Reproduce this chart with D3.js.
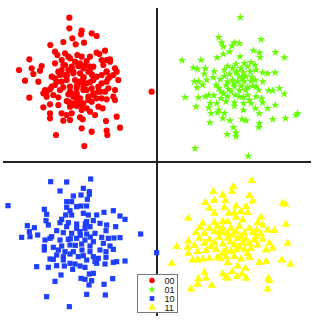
<!DOCTYPE html>
<html>
<head>
<meta charset="utf-8">
<script src="https://cdn.jsdelivr.net/npm/d3@7"></script>
<style>
  html, body { margin: 0; padding: 0; background: #fff; }
  svg { display: block; }
  .legend text { font-family: "Liberation Sans", Arial, sans-serif; font-size: 9px; fill: #111; }
</style>
</head>
<body>
<div id="chart"></div>
<script>
"use strict";

// cluster "00" (red circles)
var pts00 = [
  [-2.63,4.33],[-2.63,4.01],[-2.26,3.94],[-1.96,3.86],[-1.81,3.78],[-2.28,3.83],[-2.54,3.71],[-2.81,3.60],
  [-2.44,3.53],[-2.19,3.58],[-3.20,3.51],[-3.06,3.31],[-2.76,3.26],[-2.99,3.21],[-2.66,3.16],[-2.39,3.21],
  [-2.26,3.16],[-1.81,3.28],[-1.73,3.24],[-1.56,3.34],[-3.83,3.08],[-2.86,3.06],[-2.61,3.11],[-2.11,3.03],
  [-1.66,3.06],[-1.51,3.06],[-1.41,3.01],[-3.46,2.88],[-3.76,2.81],[-4.14,2.76],[-3.51,2.74],[-3.06,2.96],
  [-2.81,2.91],[-2.56,2.86],[-2.36,2.88],[-2.21,2.81],[-2.01,2.86],[-1.91,2.86],[-1.61,2.91],[-1.26,2.81],
  [-1.21,2.71],[-3.71,2.64],[-3.96,2.44],[-3.56,2.41],[-3.16,2.56],[-2.96,2.71],[-2.76,2.61],[-2.51,2.71],
  [-2.31,2.66],[-2.06,2.71],[-1.81,2.56],[-1.51,2.71],[-1.41,2.56],[-1.16,2.46],[-1.31,2.61],[-2.86,2.41],
  [-2.71,2.46],[-2.46,2.46],[-2.26,2.41],[-2.11,2.36],[-1.91,2.46],[-1.66,2.36],[-1.51,2.41],[-3.36,2.16],
  [-3.41,2.06],[-3.21,2.18],[-3.06,2.31],[-2.81,2.24],[-2.61,2.26],[-2.41,2.21],[-2.21,2.16],[-1.96,2.21],
  [-1.76,2.26],[-1.46,2.21],[-1.26,2.16],[-0.16,2.11],[-3.83,1.93],[-3.31,1.96],[-3.11,2.01],[-2.96,1.94],
  [-2.66,2.03],[-2.51,1.96],[-2.31,1.91],[-2.06,1.96],[-1.81,1.91],[-1.51,1.88],[-1.26,1.86],[-3.41,1.64],
  [-3.21,1.73],[-2.96,1.71],[-2.71,1.83],[-2.56,1.76],[-2.41,1.68],[-2.21,1.76],[-1.96,1.81],[-1.76,1.66],
  [-1.63,1.61],[-3.21,1.46],[-3.21,1.31],[-2.86,1.46],[-2.71,1.41],[-2.56,1.46],[-2.26,1.56],[-2.01,1.51],
  [-1.86,1.41],[-2.81,1.24],[-2.61,1.26],[-2.31,1.34],[-2.23,1.28],[-1.21,1.36],[-1.53,1.23],[-2.26,1.01],
  [-1.96,0.91],[-1.51,0.94],[-1.49,0.81],[-1.11,1.03],[-3.03,0.81],[-2.18,0.48],[-2.31,2.96],[-2.46,3.01],
  [-2.66,2.76],[-2.86,2.76],[-2.41,2.06],[-2.41,1.86],[-2.61,1.66],[-2.11,1.61],[-1.91,2.06],[-1.71,2.11],
  [-2.91,2.16],[-3.06,2.51],[-1.31,1.96],[-1.56,2.11],[-1.41,3.08],[-2.01,3.16],[-2.40,2.30],[-2.20,2.55],
  [-2.55,2.05],[-2.00,2.40],[-2.70,2.60],[-2.30,1.78],[-1.95,2.62],[-2.15,2.90],
  [-2.76,2.91],[-2.56,2.81],[-2.51,2.66],[-2.91,2.61],[-2.31,2.41],[-2.21,2.26],[-2.11,2.16],[-2.41,2.01],
  [-2.61,2.11],[-1.91,2.01],[-2.66,1.81],[-2.51,1.71],[-2.26,1.71],[-2.06,1.86],[-3.31,2.11],[-3.16,2.26],
  [-3.01,2.41],[-1.66,2.61],[-1.46,2.51],[-1.51,2.71],[-1.76,2.11],[-1.66,1.91],[-2.21,2.51],[-2.01,2.71],
  [-1.91,2.56]
];

// cluster "01" (green stars)
var pts01 = [
  [2.50,4.34],[1.85,3.74],[3.12,3.68],[1.94,3.58],[2.32,3.58],[2.47,3.56],[2.25,3.48],[1.99,3.46],
  [2.89,3.34],[3.07,3.28],[3.55,3.29],[2.17,3.31],[1.99,3.24],[2.49,3.16],[3.09,3.14],[3.82,3.13],
  [1.80,3.13],[0.75,3.05],[1.32,3.06],[2.37,2.94],[2.62,2.96],[2.82,2.99],[2.94,2.91],[1.09,2.83],
  [1.22,2.79],[1.45,2.81],[2.12,2.88],[2.27,2.81],[2.52,2.81],[2.72,2.86],[3.17,2.68],[3.32,2.66],
  [3.54,2.68],[1.42,2.64],[2.02,2.58],[2.17,2.64],[2.37,2.68],[2.59,2.68],[2.80,2.71],[2.97,2.76],
  [1.49,2.46],[1.12,2.41],[1.25,2.41],[1.69,2.54],[1.90,2.48],[2.27,2.46],[2.42,2.41],[2.62,2.41],
  [2.82,2.43],[2.95,2.46],[3.17,2.41],[1.77,2.31],[2.07,2.31],[2.32,2.26],[2.52,2.28],[2.72,2.24],
  [2.87,2.28],[1.20,2.23],[1.37,2.31],[1.85,2.21],[2.15,2.18],[2.47,2.14],[2.65,2.16],[3.05,2.16],
  [3.35,2.14],[3.47,2.14],[3.67,2.21],[3.82,2.04],[0.84,1.94],[1.25,1.93],[1.45,1.96],[1.55,2.01],
  [1.92,1.91],[2.12,1.96],[2.35,2.01],[2.59,1.94],[2.72,2.01],[2.97,1.96],[3.14,1.91],[1.60,1.76],
  [1.79,1.76],[2.07,1.81],[2.32,1.78],[2.60,1.76],[2.82,1.76],[3.17,1.78],[1.17,1.66],[1.55,1.63],
  [1.85,1.56],[2.32,1.68],[2.95,1.61],[3.32,1.61],[3.55,1.71],[1.62,1.46],[1.82,1.48],[2.02,1.46],
  [2.59,1.56],[3.07,1.46],[1.97,1.31],[2.55,1.29],[2.67,1.24],[2.19,1.24],[3.47,1.28],[3.85,1.31],
  [4.17,1.41],[4.22,1.46],[1.59,1.18],[3.07,1.16],[3.05,1.04],[2.29,1.04],[2.37,0.88],[2.10,0.83],
  [2.37,0.76],[1.14,0.41],[2.74,0.18],[1.72,2.71],[2.02,2.76],[2.47,2.56],[2.67,2.56],[2.22,2.11],
  [1.92,2.11],[2.77,1.86],[2.47,1.96],[2.12,2.41],[2.97,2.26],[2.30,2.35],[2.55,2.50],[2.00,2.05],
  [2.40,2.72],[2.85,2.55],[1.70,2.00]
];

// cluster "10" (blue squares)
var pts10 = [
  [-1.99,-0.51],[-3.19,-0.59],[-2.71,-0.60],[-2.21,-0.79],[-2.91,-0.87],[-2.03,-0.89],[-2.28,-0.99],[-2.03,-0.97],
  [-2.51,-1.02],[-2.09,-1.12],[-2.71,-1.19],[-2.56,-1.19],[-4.47,-1.31],[-2.28,-1.32],[-2.11,-1.32],[-3.38,-1.42],
  [-2.71,-1.36],[-2.41,-1.34],[-2.61,-1.46],[-3.31,-1.57],[-2.74,-1.59],[-2.56,-1.59],[-2.21,-1.54],[-2.06,-1.59],
  [-1.81,-1.59],[-1.59,-1.51],[-1.31,-1.46],[-1.11,-1.62],[-0.96,-1.72],[-3.33,-1.76],[-2.86,-1.72],[-2.66,-1.82],
  [-2.41,-1.86],[-2.11,-1.79],[-1.91,-1.76],[-1.71,-1.84],[-3.89,-1.91],[-3.68,-1.97],[-3.26,-1.89],[-2.41,-1.99],
  [-2.16,-1.99],[-2.01,-1.94],[-1.24,-1.94],[-3.83,-2.09],[-3.58,-2.19],[-3.01,-2.06],[-2.81,-2.12],[-2.56,-2.14],
  [-2.31,-2.09],[-2.11,-2.16],[-1.86,-2.14],[-1.53,-2.06],[-0.49,-2.16],[-4.06,-2.26],[-3.81,-2.24],[-3.36,-2.34],
  [-3.21,-2.29],[-2.91,-2.34],[-2.66,-2.32],[-2.41,-2.29],[-2.16,-2.34],[-1.91,-2.39],[-1.66,-2.26],[-1.46,-2.29],
  [-1.29,-2.28],[-1.11,-2.27],[-3.38,-2.54],[-3.11,-2.56],[-2.86,-2.52],[-2.61,-2.49],[-2.26,-2.46],[-2.01,-2.52],
  [-1.61,-2.44],[-1.41,-2.52],[-3.38,-2.64],[-2.96,-2.64],[-2.76,-2.69],[-2.51,-2.69],[-2.25,-2.64],[-2.01,-2.69],
  [-1.71,-2.64],[-1.53,-2.69],[-1.31,-2.62],[-0.01,-2.72],[-3.21,-2.91],[-3.11,-2.92],[-2.81,-2.84],[-2.61,-2.76],
  [-2.21,-2.81],[-1.91,-2.84],[-1.76,-2.89],[-1.53,-2.86],[-3.61,-3.14],[-3.26,-3.16],[-3.01,-3.11],[-2.78,-3.12],
  [-2.61,-3.04],[-2.46,-3.06],[-2.31,-3.12],[-2.16,-3.16],[-1.86,-2.99],[-1.81,-3.04],[-1.56,-3.06],[-1.31,-3.01],
  [-1.21,-2.99],[-0.96,-2.97],[-2.53,-3.22],[-2.03,-3.36],[-1.91,-3.34],[-2.88,-3.39],[-2.28,-3.49],[-2.16,-3.52],
  [-1.96,-3.56],[-3.06,-3.58],[-1.33,-3.50],[-1.59,-3.67],[-2.04,-3.69],[-3.31,-4.04],[-2.11,-3.97],[-1.55,-3.99],
  [-2.63,-4.34],[-2.91,-1.82],[-3.16,-2.24],[-2.71,-1.94],[-1.51,-1.89],[-2.36,-2.84],[-2.81,-2.94],[-3.01,-2.79],
  [-2.11,-2.94],[-2.45,-2.50],[-2.30,-2.20],[-2.00,-2.25],[-2.60,-2.30],[-2.15,-1.85]
];

// cluster "11" (yellow triangles)
var pts11 = [
  [2.84,-0.56],[2.29,-0.74],[1.69,-0.89],[2.25,-0.89],[1.97,-0.99],[2.77,-1.01],[1.45,-1.22],[1.72,-1.16],
  [2.05,-1.16],[2.87,-1.17],[3.77,-1.24],[3.85,-1.27],[1.57,-1.39],[2.02,-1.37],[2.37,-1.32],[2.67,-1.34],
  [2.52,-1.49],[2.15,-1.54],[2.32,-1.52],[2.72,-1.52],[1.72,-1.54],[3.12,-1.66],[0.94,-1.69],[2.37,-1.66],
  [2.57,-1.74],[1.97,-1.79],[1.37,-1.84],[1.72,-1.82],[2.12,-1.79],[3.02,-1.82],[3.17,-1.89],[3.87,-1.87],
  [1.29,-1.96],[1.57,-1.99],[1.82,-1.92],[1.97,-1.99],[2.22,-1.99],[2.47,-1.94],[2.77,-1.99],[2.99,-2.04],
  [3.32,-2.04],[3.52,-2.06],[1.17,-2.12],[1.42,-2.14],[1.72,-2.09],[1.97,-2.12],[2.12,-2.14],[2.37,-2.09],
  [2.62,-2.14],[2.87,-2.12],[3.12,-2.16],[1.27,-2.29],[1.57,-2.32],[1.87,-2.26],[2.12,-2.29],[2.42,-2.29],
  [2.67,-2.32],[2.92,-2.34],[3.17,-2.32],[0.94,-2.37],[3.92,-2.44],[0.59,-2.54],[0.92,-2.56],[1.12,-2.51],
  [1.42,-2.44],[1.72,-2.42],[1.97,-2.46],[2.32,-2.49],[2.57,-2.44],[2.77,-2.44],[3.02,-2.49],[3.37,-2.44],
  [3.47,-2.59],[0.94,-2.74],[1.22,-2.69],[1.47,-2.66],[1.77,-2.62],[2.07,-2.64],[2.37,-2.64],[2.62,-2.62],
  [2.82,-2.59],[3.27,-2.64],[1.07,-2.94],[1.22,-2.94],[1.37,-2.92],[1.57,-2.89],[1.82,-2.86],[2.07,-2.84],
  [2.32,-2.84],[2.52,-2.91],[2.77,-2.86],[3.07,-3.02],[3.27,-2.99],[3.74,-2.94],[0.44,-3.04],[4.00,-3.07],
  [2.12,-3.02],[2.42,-3.12],[2.65,-3.19],[1.42,-3.32],[1.47,-3.49],[1.97,-3.36],[2.07,-3.46],[2.25,-3.29],
  [2.40,-3.44],[2.55,-3.36],[2.67,-3.49],[2.12,-3.49],[3.34,-3.49],[3.37,-3.56],[1.24,-3.51],[1.22,-3.67],
  [1.64,-3.70],[1.02,-3.81],[3.32,-3.81],[1.87,-2.12],[2.27,-2.19],[2.52,-2.24],[1.97,-2.74],[2.72,-2.74],
  [1.62,-2.54],[2.22,-2.69],[2.97,-2.24],[2.20,-2.40],[2.45,-2.55],[1.90,-2.90]
];

var legendLabels = ["00", "01", "10", "11"];

(function() {
  var width = 316,
      height = 323;

  var x = d3.scaleLinear().domain([-4.62, 4.62]).range([3, 311]);
  var y = d3.scaleLinear().domain([-4.62, 4.62]).range([316, 8]);

  var svg = d3.select("#chart").append("svg")
    .attr("width", width)
    .attr("height", height);

  var series = [
    { label: legendLabels[0], data: pts00, color: "#ff0000", symbol: d3.symbolCircle, size: 30 },
    { label: legendLabels[1], data: pts01, color: "#66ff00", symbol: d3.symbolStar, size: 22 },
    { label: legendLabels[2], data: pts10, color: "#1f3fff", symbol: d3.symbolSquare, size: 27 },
    { label: legendLabels[3], data: pts11, color: "#ffff00", symbol: d3.symbolTriangle, size: 30 }
  ];

  // crossing axes through the origin
  var axes = svg.append("g").attr("class", "axes");
  axes.append("line")
    .attr("x1", x(0)).attr("x2", x(0))
    .attr("y1", y.range()[1]).attr("y2", y.range()[0])
    .attr("stroke", "#222").attr("stroke-width", 2);
  axes.append("line")
    .attr("x1", x.range()[0]).attr("x2", x.range()[1])
    .attr("y1", y(0)).attr("y2", y(0))
    .attr("stroke", "#222").attr("stroke-width", 2);

  series.forEach(function(s) {
    var sym = d3.symbol().type(s.symbol).size(s.size);
    svg.append("g")
      .selectAll("path")
      .data(s.data)
    .enter().append("path")
      .attr("transform", function(d) {
        return "translate(" + x(d[0]) + "," + y(d[1]) + ")";
      })
      .attr("d", sym)
      .attr("fill", s.color);
  });

  // legend
  var legend = svg.append("g").attr("class", "legend")
    .attr("transform", "translate(137.5,274.5)");

  legend.append("rect")
    .attr("width", 40)
    .attr("height", 38)
    .attr("fill", "#fff")
    .attr("stroke", "#777");

  var rows = legend.selectAll("g.row")
    .data(series)
  .enter().append("g")
    .attr("class", "row")
    .attr("transform", function(d, i) {
      return "translate(0," + (6 + i * 9) + ")";
    });

  rows.append("path")
    .attr("transform", "translate(14.5,0)")
    .attr("d", function(d) { return d3.symbol().type(d.symbol).size(d.size * 0.8)(); })
    .attr("fill", function(d) { return d.color; });

  rows.append("text")
    .attr("x", 27)
    .attr("dy", "0.35em")
    .text(function(d) { return d.label; });
})();
</script>
</body>
</html>
